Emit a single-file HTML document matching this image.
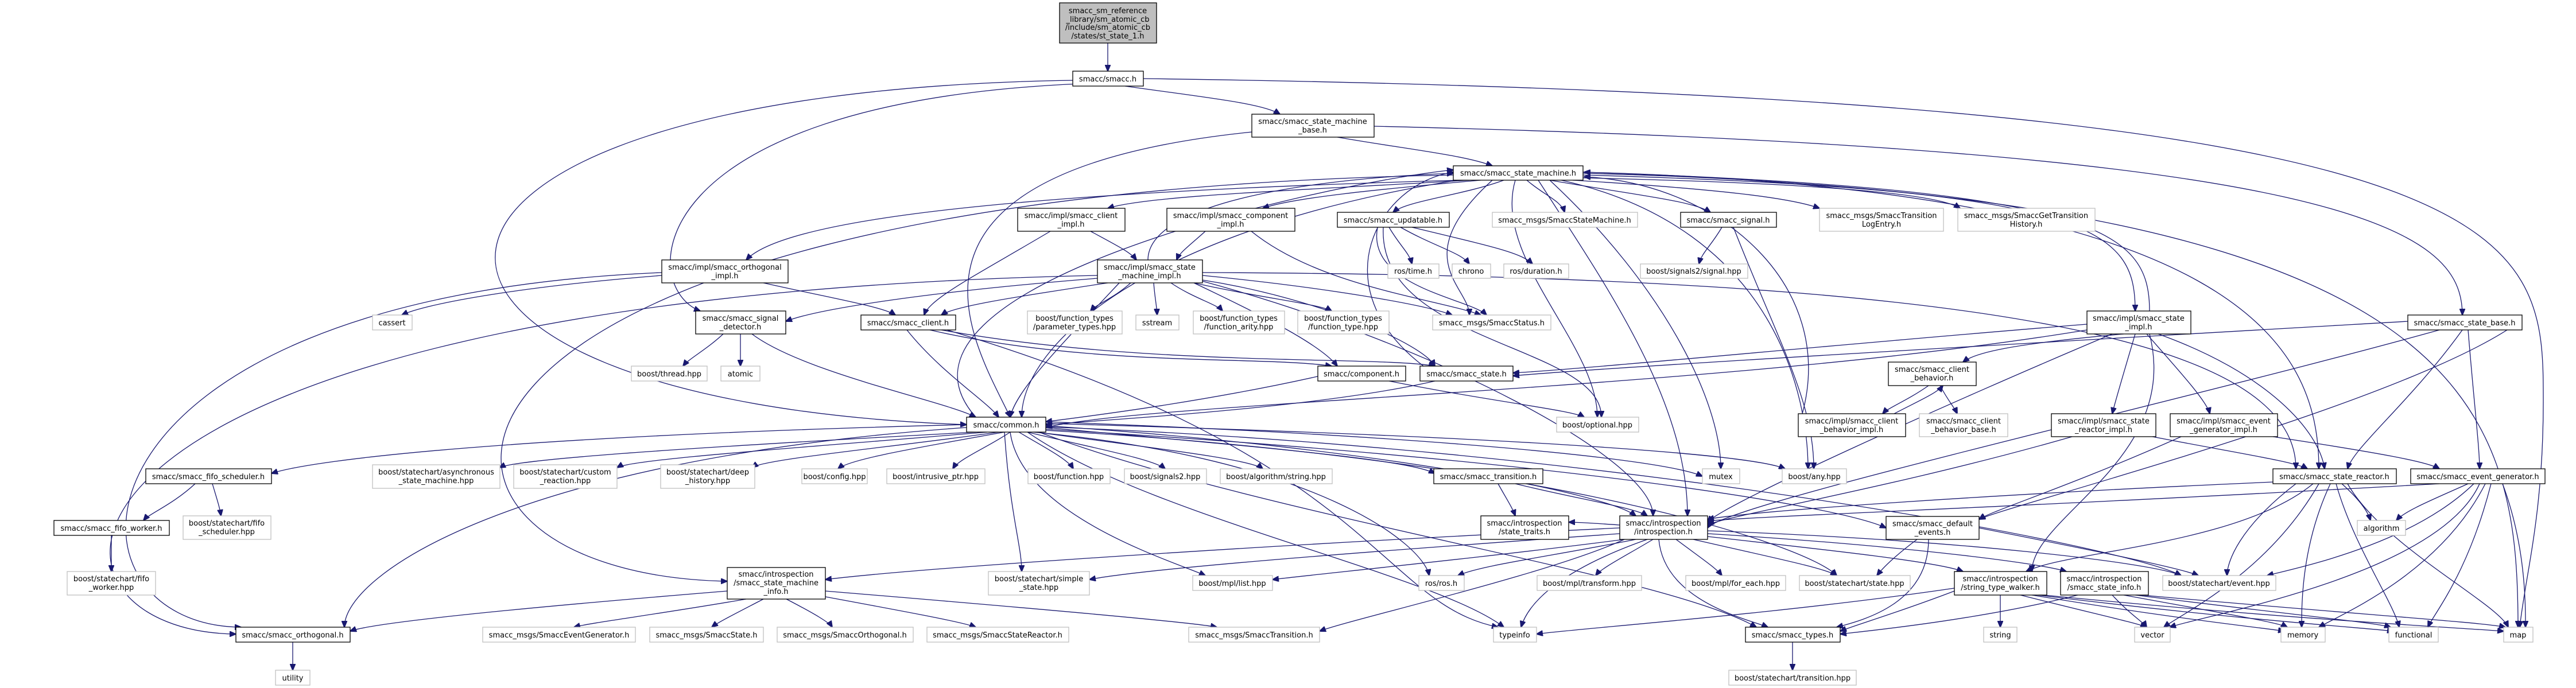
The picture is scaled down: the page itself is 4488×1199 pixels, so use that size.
<!DOCTYPE html>
<html><head><meta charset="utf-8"><style>
html,body{margin:0;padding:0;background:#fff}
svg{display:block}
text{font-family:"DejaVu Sans","Liberation Sans",sans-serif;font-size:13px;fill:#000;text-anchor:middle}
.n rect{fill:#fff;stroke:#000;stroke-width:1.3}
.g rect{fill:#fff;stroke:#bfbfbf;stroke-width:1.3}
.e path{fill:none;stroke:#191970;stroke-width:1.3}
</style></head><body>
<svg width="4488" height="1199" viewBox="0 0 4488 1199" xmlns="http://www.w3.org/2000/svg">
<defs><marker id="a" markerWidth="12" markerHeight="10" refX="11" refY="5" orient="auto" markerUnits="userSpaceOnUse"><path d="M0,0 L12,5 L0,10 z" fill="#191970" stroke="#191970"/></marker></defs>
<g class="e" marker-end="url(#a)">
<path d="M1930,75 C1930,100 1930,100 1930,124" marker-end="url(#a)"/>
<path d="M1960,150 C2100,170 2200,180 2230,199" marker-end="url(#a)"/>
<path d="M1869,140 C560,160 560,700 1684,740" marker-end="url(#a)"/>
<path d="M1880,146 C1110,180 1110,500 1220,542" marker-end="url(#a)"/>
<path d="M1992,137 C4431,170 4431,400 4431,700 C4431,900 4400,1000 4390,1093" marker-end="url(#a)"/>
<path d="M2330,239 C2450,260 2550,270 2600,289" marker-end="url(#a)"/>
<path d="M2394,220 C4100,260 4290,400 4290,549" marker-end="url(#a)"/>
<path d="M2181,230 C1500,300 1700,600 1760,727" marker-end="url(#a)"/>
<path d="M2560,314 C2300,330 2000,340 1930,363" marker-end="url(#a)"/>
<path d="M2580,314 C2400,330 2250,345 2200,363" marker-end="url(#a)"/>
<path d="M2620,314 C2550,340 2450,350 2427,370" marker-end="url(#a)"/>
<path d="M2660,314 C2690,340 2720,350 2726,370" marker-end="url(#a)"/>
<path d="M2700,314 C2850,340 2950,350 2980,370" marker-end="url(#a)"/>
<path d="M2740,314 C3000,330 3120,345 3170,363" marker-end="url(#a)"/>
<path d="M2758,310 C3200,320 3380,340 3415,363" marker-end="url(#a)"/>
<path d="M2758,305 C3650,330 3720,400 3720,542" marker-end="url(#a)"/>
<path d="M3745,542 C3745,400 3650,330 2760,300" marker-end="url(#a)"/>
<path d="M2758,300 C3900,330 4040,600 4040,817" marker-end="url(#a)"/>
<path d="M2700,314 C2900,500 2998,700 2998,817" marker-end="url(#a)"/>
<path d="M2720,314 C3100,400 3150,700 3150,817" marker-end="url(#a)"/>
<path d="M2600,314 C2450,450 2560,500 2560,549" marker-end="url(#a)"/>
<path d="M2640,314 C2600,450 2783,600 2783,727" marker-end="url(#a)"/>
<path d="M2545,314 C1600,340 1350,400 1300,453" marker-end="url(#a)"/>
<path d="M2680,314 C2800,500 2940,700 2940,899" marker-end="url(#a)"/>
<path d="M2758,302 C4300,340 4387,700 4387,1093" marker-end="url(#a)"/>
<path d="M2540,314 C2000,400 1780,600 1780,727" marker-end="url(#a)"/>
<path d="M2532,305 C612,340 612,1000 1267,1013" marker-end="url(#a)"/>
<path d="M1700,727 C1500,500 2300,320 2532,296" marker-end="url(#a)"/>
<path d="M2480,638 C2300,500 2400,320 2532,300" marker-end="url(#a)"/>
<path d="M2000,453 C2000,350 2300,310 2532,302" marker-end="url(#a)"/>
<path d="M3140,721 C3200,500 3000,320 2760,308" marker-end="url(#a)"/>
<path d="M1900,403 C1950,430 1970,440 1980,453" marker-end="url(#a)"/>
<path d="M1830,403 C1700,480 1620,520 1610,549" marker-end="url(#a)"/>
<path d="M2100,403 C2070,430 2055,440 2050,453" marker-end="url(#a)"/>
<path d="M2180,403 C2300,500 2500,520 2580,549" marker-end="url(#a)"/>
<path d="M2420,396 C2440,430 2455,440 2460,460" marker-end="url(#a)"/>
<path d="M2440,396 C2500,430 2545,440 2560,460" marker-end="url(#a)"/>
<path d="M2460,396 C2600,430 2650,440 2670,460" marker-end="url(#a)"/>
<path d="M2400,396 C2380,500 2560,520 2590,549" marker-end="url(#a)"/>
<path d="M2410,396 C2400,600 2790,600 2790,727" marker-end="url(#a)"/>
<path d="M3000,396 C2980,430 2965,440 2960,460" marker-end="url(#a)"/>
<path d="M3020,396 C3100,600 3160,700 3160,817" marker-end="url(#a)"/>
<path d="M1930,493 C1750,520 1660,535 1640,549" marker-end="url(#a)"/>
<path d="M1912,485 C1600,510 1420,540 1369,560" marker-end="url(#a)"/>
<path d="M1970,493 C1940,520 1910,530 1900,542" marker-end="url(#a)"/>
<path d="M2010,493 C2012,520 2015,530 2016,549" marker-end="url(#a)"/>
<path d="M2040,493 C2080,520 2120,530 2130,542" marker-end="url(#a)"/>
<path d="M2080,493 C2200,520 2300,530 2320,542" marker-end="url(#a)"/>
<path d="M2095,480 C2300,500 2480,530 2530,549" marker-end="url(#a)"/>
<path d="M2095,488 C2300,520 2480,600 2500,638" marker-end="url(#a)"/>
<path d="M2080,493 C2200,550 2300,600 2330,638" marker-end="url(#a)"/>
<path d="M2095,475 C3500,480 4000,600 4000,817" marker-end="url(#a)"/>
<path d="M2095,490 C2500,600 2880,800 2880,899" marker-end="url(#a)"/>
<path d="M1950,493 C1850,600 1770,680 1760,727" marker-end="url(#a)"/>
<path d="M1912,480 C0,520 0,1100 411,1105" marker-end="url(#a)"/>
<path d="M1153,475 C80,520 80,1090 420,1093" marker-end="url(#a)"/>
<path d="M1153,480 C900,500 740,530 700,549" marker-end="url(#a)"/>
<path d="M1330,493 C1450,520 1540,535 1560,549" marker-end="url(#a)"/>
<path d="M1260,582 C1230,610 1200,625 1190,638" marker-end="url(#a)"/>
<path d="M1290,582 C1290,610 1290,620 1290,638" marker-end="url(#a)"/>
<path d="M1310,582 C1400,650 1650,700 1700,727" marker-end="url(#a)"/>
<path d="M1580,575 C1640,650 1720,700 1740,727" marker-end="url(#a)"/>
<path d="M1620,575 C1900,640 2200,620 2320,638" marker-end="url(#a)"/>
<path d="M1640,575 C2000,640 2400,620 2500,638" marker-end="url(#a)"/>
<path d="M1650,575 C2400,800 2400,1050 2610,1093" marker-end="url(#a)"/>
<path d="M2300,655 C2100,700 1900,725 1822,735" marker-end="url(#a)"/>
<path d="M2420,664 C2600,700 2740,715 2760,727" marker-end="url(#a)"/>
<path d="M2500,664 C2300,710 1950,730 1822,740" marker-end="url(#a)"/>
<path d="M3636,565 C3200,600 2800,640 2636,650" marker-end="url(#a)"/>
<path d="M3700,582 C3500,600 3440,615 3420,631" marker-end="url(#a)"/>
<path d="M3720,582 C3700,650 3685,700 3680,721" marker-end="url(#a)"/>
<path d="M3740,582 C3800,650 3845,700 3850,721" marker-end="url(#a)"/>
<path d="M3760,582 C3950,650 4040,750 4050,817" marker-end="url(#a)"/>
<path d="M3680,582 C3400,700 3000,880 2975,910" marker-end="url(#a)"/>
<path d="M3745,582 C3800,800 3540,900 3540,996" marker-end="url(#a)"/>
<path d="M3636,575 C3000,680 2000,700 1822,745" marker-end="url(#a)"/>
<path d="M4195,560 C3500,600 2800,640 2636,655" marker-end="url(#a)"/>
<path d="M4290,575 C4200,700 4100,780 4090,817" marker-end="url(#a)"/>
<path d="M4300,575 C4310,700 4320,780 4320,817" marker-end="url(#a)"/>
<path d="M4250,575 C3800,700 3000,880 2975,920" marker-end="url(#a)"/>
<path d="M4390,560 C4200,700 3500,880 3448,905" marker-end="url(#a)"/>
<path d="M3360,672 C3320,700 3290,710 3280,721" marker-end="url(#a)"/>
<path d="M3300,721 C3340,700 3375,685 3385,672" marker-end="url(#a)"/>
<path d="M3380,672 C3395,700 3405,710 3410,721" marker-end="url(#a)"/>
<path d="M3750,761 C3900,790 4000,805 4020,817" marker-end="url(#a)"/>
<path d="M3610,761 C3300,850 3000,900 2975,915" marker-end="url(#a)"/>
<path d="M3960,761 C4150,790 4230,805 4250,817" marker-end="url(#a)"/>
<path d="M3800,761 C3600,850 3470,890 3448,905" marker-end="url(#a)"/>
<path d="M1684,740 C900,760 550,800 473,825" marker-end="url(#a)"/>
<path d="M1700,753 C1200,780 900,800 870,815" marker-end="url(#a)"/>
<path d="M1720,753 C1400,780 1100,800 1075,815" marker-end="url(#a)"/>
<path d="M1740,753 C1550,780 1330,800 1310,815" marker-end="url(#a)"/>
<path d="M1750,753 C1600,780 1480,800 1460,817" marker-end="url(#a)"/>
<path d="M1760,753 C1720,780 1670,800 1660,817" marker-end="url(#a)"/>
<path d="M1775,753 C1820,780 1860,800 1870,817" marker-end="url(#a)"/>
<path d="M1790,753 C1900,780 2010,800 2030,817" marker-end="url(#a)"/>
<path d="M1805,753 C2000,780 2180,800 2200,817" marker-end="url(#a)"/>
<path d="M1822,745 C2200,780 2450,800 2500,825" marker-end="url(#a)"/>
<path d="M1822,735 C2500,760 2900,800 2966,830" marker-end="url(#a)"/>
<path d="M1822,738 C2600,760 3050,790 3110,817" marker-end="url(#a)"/>
<path d="M1822,742 C2400,780 2800,860 2850,899" marker-end="url(#a)"/>
<path d="M1822,748 C2700,800 3200,880 3286,920" marker-end="url(#a)"/>
<path d="M1684,745 C900,800 600,1000 600,1093" marker-end="url(#a)"/>
<path d="M1750,753 C1760,900 1780,950 1780,996" marker-end="url(#a)"/>
<path d="M1760,753 C1780,900 2050,980 2100,1003" marker-end="url(#a)"/>
<path d="M1800,753 C2300,800 2480,950 2490,1003" marker-end="url(#a)"/>
<path d="M1822,750 C2700,800 3150,950 3200,1003" marker-end="url(#a)"/>
<path d="M1822,744 C2800,780 3700,950 3800,1003" marker-end="url(#a)"/>
<path d="M1810,753 C2200,900 2900,1000 3060,1093" marker-end="url(#a)"/>
<path d="M1790,753 C2000,900 2500,1000 2620,1093" marker-end="url(#a)"/>
<path d="M340,843 C300,880 260,895 250,907" marker-end="url(#a)"/>
<path d="M370,843 C378,870 383,885 385,899" marker-end="url(#a)"/>
<path d="M194,933 C194,960 194,980 194,996" marker-end="url(#a)"/>
<path d="M2610,843 C2625,870 2635,885 2640,899" marker-end="url(#a)"/>
<path d="M2640,843 C2750,870 2850,885 2870,899" marker-end="url(#a)"/>
<path d="M3960,840 C3500,860 3050,890 2975,905" marker-end="url(#a)"/>
<path d="M4080,843 C4110,870 4125,890 4130,907" marker-end="url(#a)"/>
<path d="M4000,843 C3900,920 3880,980 3880,1003" marker-end="url(#a)"/>
<path d="M4040,843 C3950,1000 3800,1070 3770,1093" marker-end="url(#a)"/>
<path d="M4060,843 C4010,950 4010,1050 4010,1093" marker-end="url(#a)"/>
<path d="M4070,843 C4100,950 4170,1050 4180,1093" marker-end="url(#a)"/>
<path d="M4090,843 C4150,950 4350,1050 4370,1093" marker-end="url(#a)"/>
<path d="M4030,843 C3900,950 3600,960 3530,996" marker-end="url(#a)"/>
<path d="M4250,843 C3600,880 3050,900 2975,908" marker-end="url(#a)"/>
<path d="M4300,843 C4240,870 4190,890 4175,907" marker-end="url(#a)"/>
<path d="M4310,843 C4200,950 4000,990 3950,1003" marker-end="url(#a)"/>
<path d="M4320,843 C4250,1000 3850,1070 3780,1093" marker-end="url(#a)"/>
<path d="M4330,843 C4250,1000 4080,1070 4040,1093" marker-end="url(#a)"/>
<path d="M4340,843 C4300,1000 4240,1070 4230,1093" marker-end="url(#a)"/>
<path d="M4360,843 C4400,950 4400,1050 4400,1093" marker-end="url(#a)"/>
<path d="M2822,915 C2780,912 2750,910 2733,910" marker-end="url(#a)"/>
<path d="M2822,930 C2400,960 2000,990 1898,1010" marker-end="url(#a)"/>
<path d="M2830,940 C2600,970 2300,1000 2217,1010" marker-end="url(#a)"/>
<path d="M2850,940 C2700,970 2580,985 2540,1003" marker-end="url(#a)"/>
<path d="M2880,940 C2830,970 2790,990 2780,1003" marker-end="url(#a)"/>
<path d="M2920,940 C2960,970 2990,990 3000,1003" marker-end="url(#a)"/>
<path d="M2950,940 C3080,970 3180,990 3200,1003" marker-end="url(#a)"/>
<path d="M2975,935 C3200,960 3380,980 3420,996" marker-end="url(#a)"/>
<path d="M2975,930 C3300,950 3550,980 3600,996" marker-end="url(#a)"/>
<path d="M2975,925 C3400,940 3750,980 3800,1003" marker-end="url(#a)"/>
<path d="M2830,940 C2700,1000 2350,1080 2299,1100" marker-end="url(#a)"/>
<path d="M2870,940 C2700,1000 2660,1060 2650,1093" marker-end="url(#a)"/>
<path d="M2890,940 C2900,1050 3050,1080 3080,1093" marker-end="url(#a)"/>
<path d="M2822,920 C2200,950 1600,990 1438,1010" marker-end="url(#a)"/>
<path d="M3340,940 C3300,970 3280,990 3270,1003" marker-end="url(#a)"/>
<path d="M3360,940 C3360,1050 3250,1080 3200,1093" marker-end="url(#a)"/>
<path d="M3448,920 C3650,960 3800,990 3830,1003" marker-end="url(#a)"/>
<path d="M1267,1030 C900,1060 650,1085 610,1100" marker-end="url(#a)"/>
<path d="M1300,1044 C1150,1070 1030,1085 1000,1093" marker-end="url(#a)"/>
<path d="M1330,1044 C1280,1070 1250,1085 1240,1093" marker-end="url(#a)"/>
<path d="M1370,1044 C1420,1070 1445,1085 1450,1093" marker-end="url(#a)"/>
<path d="M1438,1040 C1600,1070 1680,1085 1700,1093" marker-end="url(#a)"/>
<path d="M1438,1030 C1800,1060 2080,1085 2120,1093" marker-end="url(#a)"/>
<path d="M3485,1037 C3485,1060 3485,1080 3485,1093" marker-end="url(#a)"/>
<path d="M3520,1037 C3650,1070 3720,1085 3740,1093" marker-end="url(#a)"/>
<path d="M3540,1037 C3800,1080 3950,1095 3980,1100" marker-end="url(#a)"/>
<path d="M3550,1037 C3900,1080 4130,1095 4170,1100" marker-end="url(#a)"/>
<path d="M3560,1037 C4000,1080 4300,1095 4362,1100" marker-end="url(#a)"/>
<path d="M3405,1030 C3300,1070 3230,1090 3206,1100" marker-end="url(#a)"/>
<path d="M3405,1025 C3100,1070 2750,1095 2677,1105" marker-end="url(#a)"/>
<path d="M3680,1037 C3710,1070 3735,1085 3740,1093" marker-end="url(#a)"/>
<path d="M3700,1037 C3880,1070 3970,1085 3985,1093" marker-end="url(#a)"/>
<path d="M3720,1037 C3980,1070 4140,1085 4165,1093" marker-end="url(#a)"/>
<path d="M3730,1037 C4100,1070 4330,1085 4365,1093" marker-end="url(#a)"/>
<path d="M3620,1037 C3450,1080 3250,1100 3206,1105" marker-end="url(#a)"/>
<path d="M510,1119 C510,1140 510,1155 510,1168" marker-end="url(#a)"/>
<path d="M3123,1119 C3123,1140 3123,1155 3123,1168" marker-end="url(#a)"/>
</g>

<!-- nodes -->
<g class="n"><rect x="1846" y="5" width="169" height="70" style="fill:#bfbfbf"/><text x="1930" y="23">smacc_sm_reference</text><text x="1930" y="38">_library/sm_atomic_cb</text><text x="1930" y="52">/include/sm_atomic_cb</text><text x="1930" y="67">/states/st_state_1.h</text></g>
<g class="n"><rect x="1869" y="124" width="123" height="26"/><text x="1930" y="142">smacc/smacc.h</text></g>
<g class="n"><rect x="2181" y="199" width="213" height="40"/><text x="2287" y="216">smacc/smacc_state_machine</text><text x="2287" y="231">_base.h</text></g>
<g class="n"><rect x="2532" y="289" width="226" height="25"/><text x="2645" y="306">smacc/smacc_state_machine.h</text></g>
<g class="n"><rect x="1773" y="363" width="187" height="40"/><text x="1866" y="380">smacc/impl/smacc_client</text><text x="1866" y="395">_impl.h</text></g>
<g class="n"><rect x="2033" y="363" width="223" height="40"/><text x="2144" y="380">smacc/impl/smacc_component</text><text x="2144" y="395">_impl.h</text></g>
<g class="n"><rect x="2330" y="370" width="195" height="26"/><text x="2427" y="388">smacc/smacc_updatable.h</text></g>
<g class="g"><rect x="2600" y="370" width="253" height="26"/><text x="2726" y="388">smacc_msgs/SmaccStateMachine.h</text></g>
<g class="n"><rect x="2928" y="370" width="167" height="26"/><text x="3011" y="388">smacc/smacc_signal.h</text></g>
<g class="g"><rect x="3170" y="363" width="216" height="40"/><text x="3278" y="380">smacc_msgs/SmaccTransition</text><text x="3278" y="395">LogEntry.h</text></g>
<g class="g"><rect x="3411" y="363" width="239" height="40"/><text x="3530" y="380">smacc_msgs/SmaccGetTransition</text><text x="3530" y="395">History.h</text></g>
<g class="g"><rect x="2418" y="460" width="89" height="25"/><text x="2462" y="477">ros/time.h</text></g>
<g class="g"><rect x="2530" y="460" width="67" height="25"/><text x="2563" y="477">chrono</text></g>
<g class="g"><rect x="2620" y="460" width="113" height="25"/><text x="2676" y="477">ros/duration.h</text></g>
<g class="g"><rect x="2858" y="460" width="187" height="25"/><text x="2951" y="477">boost/signals2/signal.hpp</text></g>
<g class="n"><rect x="1912" y="453" width="183" height="40"/><text x="2003" y="470">smacc/impl/smacc_state</text><text x="2003" y="485">_machine_impl.h</text></g>
<g class="n"><rect x="1153" y="453" width="220" height="40"/><text x="1263" y="470">smacc/impl/smacc_orthogonal</text><text x="1263" y="485">_impl.h</text></g>
<g class="g"><rect x="649" y="549" width="69" height="26"/><text x="683" y="567">cassert</text></g>
<g class="n"><rect x="1212" y="542" width="157" height="40"/><text x="1290" y="559">smacc/smacc_signal</text><text x="1290" y="574">_detector.h</text></g>
<g class="n"><rect x="1500" y="549" width="165" height="26"/><text x="1582" y="567">smacc/smacc_client.h</text></g>
<g class="g"><rect x="1790" y="542" width="165" height="40"/><text x="1872" y="559">boost/function_types</text><text x="1872" y="574">/parameter_types.hpp</text></g>
<g class="g"><rect x="1979" y="549" width="75" height="26"/><text x="2016" y="567">sstream</text></g>
<g class="g"><rect x="2079" y="542" width="159" height="40"/><text x="2158" y="559">boost/function_types</text><text x="2158" y="574">/function_arity.hpp</text></g>
<g class="g"><rect x="2261" y="542" width="159" height="40"/><text x="2340" y="559">boost/function_types</text><text x="2340" y="574">/function_type.hpp</text></g>
<g class="g"><rect x="2496" y="549" width="206" height="26"/><text x="2599" y="567">smacc_msgs/SmaccStatus.h</text></g>
<g class="n"><rect x="3636" y="542" width="181" height="40"/><text x="3726" y="559">smacc/impl/smacc_state</text><text x="3726" y="574">_impl.h</text></g>
<g class="n"><rect x="4195" y="549" width="199" height="26"/><text x="4294" y="567">smacc/smacc_state_base.h</text></g>
<g class="g"><rect x="1100" y="638" width="132" height="26"/><text x="1166" y="656">boost/thread.hpp</text></g>
<g class="g"><rect x="1256" y="638" width="68" height="26"/><text x="1290" y="656">atomic</text></g>
<g class="n"><rect x="2296" y="638" width="153" height="26"/><text x="2372" y="656">smacc/component.h</text></g>
<g class="n"><rect x="2474" y="638" width="162" height="26"/><text x="2555" y="656">smacc/smacc_state.h</text></g>
<g class="n"><rect x="3290" y="631" width="153" height="41"/><text x="3366" y="648">smacc/smacc_client</text><text x="3366" y="663">_behavior.h</text></g>
<g class="n"><rect x="1684" y="727" width="138" height="26"/><text x="1753" y="745">smacc/common.h</text></g>
<g class="g"><rect x="2712" y="727" width="143" height="26"/><text x="2783" y="745">boost/optional.hpp</text></g>
<g class="n"><rect x="3133" y="721" width="187" height="40"/><text x="3226" y="738">smacc/impl/smacc_client</text><text x="3226" y="753">_behavior_impl.h</text></g>
<g class="g"><rect x="3344" y="721" width="154" height="40"/><text x="3421" y="738">smacc/smacc_client</text><text x="3421" y="753">_behavior_base.h</text></g>
<g class="n"><rect x="3574" y="721" width="182" height="40"/><text x="3665" y="738">smacc/impl/smacc_state</text><text x="3665" y="753">_reactor_impl.h</text></g>
<g class="n"><rect x="3781" y="721" width="187" height="40"/><text x="3874" y="738">smacc/impl/smacc_event</text><text x="3874" y="753">_generator_impl.h</text></g>
<g class="n"><rect x="254" y="817" width="219" height="26"/><text x="363" y="835">smacc/smacc_fifo_scheduler.h</text></g>
<g class="g"><rect x="649" y="810" width="222" height="41"/><text x="760" y="827">boost/statechart/asynchronous</text><text x="760" y="842">_state_machine.hpp</text></g>
<g class="g"><rect x="895" y="810" width="180" height="41"/><text x="985" y="827">boost/statechart/custom</text><text x="985" y="842">_reaction.hpp</text></g>
<g class="g"><rect x="1151" y="810" width="164" height="41"/><text x="1233" y="827">boost/statechart/deep</text><text x="1233" y="842">_history.hpp</text></g>
<g class="g"><rect x="1397" y="817" width="114" height="26"/><text x="1454" y="835">boost/config.hpp</text></g>
<g class="g"><rect x="1545" y="817" width="171" height="26"/><text x="1630" y="835">boost/intrusive_ptr.hpp</text></g>
<g class="g"><rect x="1791" y="817" width="143" height="26"/><text x="1862" y="835">boost/function.hpp</text></g>
<g class="g"><rect x="1959" y="817" width="143" height="26"/><text x="2030" y="835">boost/signals2.hpp</text></g>
<g class="g"><rect x="2126" y="817" width="195" height="26"/><text x="2223" y="835">boost/algorithm/string.hpp</text></g>
<g class="n"><rect x="2498" y="817" width="190" height="26"/><text x="2593" y="835">smacc/smacc_transition.h</text></g>
<g class="g"><rect x="2966" y="817" width="65" height="26"/><text x="2998" y="835">mutex</text></g>
<g class="g"><rect x="3105" y="817" width="112" height="26"/><text x="3161" y="835">boost/any.hpp</text></g>
<g class="n"><rect x="3960" y="817" width="215" height="26"/><text x="4067" y="835">smacc/smacc_state_reactor.h</text></g>
<g class="n"><rect x="4200" y="817" width="234" height="26"/><text x="4317" y="835">smacc/smacc_event_generator.h</text></g>
<g class="n"><rect x="94" y="907" width="201" height="26"/><text x="194" y="925">smacc/smacc_fifo_worker.h</text></g>
<g class="g"><rect x="319" y="899" width="153" height="41"/><text x="395" y="916">boost/statechart/fifo</text><text x="395" y="931">_scheduler.hpp</text></g>
<g class="n"><rect x="2580" y="899" width="153" height="41"/><text x="2656" y="916">smacc/introspection</text><text x="2656" y="931">/state_traits.h</text></g>
<g class="n"><rect x="2822" y="899" width="153" height="41"/><text x="2898" y="916">smacc/introspection</text><text x="2898" y="931">/introspection.h</text></g>
<g class="n"><rect x="3286" y="900" width="162" height="40"/><text x="3367" y="917">smacc/smacc_default</text><text x="3367" y="932">_events.h</text></g>
<g class="g"><rect x="4107" y="907" width="84" height="26"/><text x="4149" y="925">algorithm</text></g>
<g class="g"><rect x="117" y="996" width="154" height="41"/><text x="194" y="1013">boost/statechart/fifo</text><text x="194" y="1028">_worker.hpp</text></g>
<g class="n"><rect x="1267" y="989" width="171" height="55"/><text x="1352" y="1005">smacc/introspection</text><text x="1352" y="1020">/smacc_state_machine</text><text x="1352" y="1035">_info.h</text></g>
<g class="g"><rect x="1722" y="996" width="176" height="41"/><text x="1810" y="1013">boost/statechart/simple</text><text x="1810" y="1028">_state.hpp</text></g>
<g class="g"><rect x="2078" y="1003" width="139" height="26"/><text x="2147" y="1021">boost/mpl/list.hpp</text></g>
<g class="g"><rect x="2472" y="1003" width="79" height="26"/><text x="2511" y="1021">ros/ros.h</text></g>
<g class="g"><rect x="2678" y="1003" width="182" height="26"/><text x="2769" y="1021">boost/mpl/transform.hpp</text></g>
<g class="g"><rect x="2937" y="1003" width="174" height="26"/><text x="3024" y="1021">boost/mpl/for_each.hpp</text></g>
<g class="g"><rect x="3135" y="1003" width="193" height="26"/><text x="3231" y="1021">boost/statechart/state.hpp</text></g>
<g class="n"><rect x="3405" y="996" width="161" height="41"/><text x="3485" y="1013">smacc/introspection</text><text x="3485" y="1028">/string_type_walker.h</text></g>
<g class="n"><rect x="3590" y="996" width="153" height="41"/><text x="3666" y="1013">smacc/introspection</text><text x="3666" y="1028">/smacc_state_info.h</text></g>
<g class="g"><rect x="3768" y="1003" width="197" height="26"/><text x="3866" y="1021">boost/statechart/event.hpp</text></g>
<g class="n"><rect x="411" y="1093" width="199" height="26"/><text x="510" y="1111">smacc/smacc_orthogonal.h</text></g>
<g class="g"><rect x="480" y="1168" width="60" height="26"/><text x="510" y="1186">utility</text></g>
<g class="g"><rect x="841" y="1093" width="266" height="26"/><text x="974" y="1111">smacc_msgs/SmaccEventGenerator.h</text></g>
<g class="g"><rect x="1132" y="1093" width="198" height="26"/><text x="1231" y="1111">smacc_msgs/SmaccState.h</text></g>
<g class="g"><rect x="1354" y="1093" width="237" height="26"/><text x="1472" y="1111">smacc_msgs/SmaccOrthogonal.h</text></g>
<g class="g"><rect x="1615" y="1093" width="247" height="26"/><text x="1738" y="1111">smacc_msgs/SmaccStateReactor.h</text></g>
<g class="g"><rect x="2071" y="1093" width="228" height="26"/><text x="2185" y="1111">smacc_msgs/SmaccTransition.h</text></g>
<g class="g"><rect x="2602" y="1093" width="75" height="26"/><text x="2639" y="1111">typeinfo</text></g>
<g class="n"><rect x="3041" y="1093" width="165" height="26"/><text x="3123" y="1111">smacc/smacc_types.h</text></g>
<g class="g"><rect x="3456" y="1093" width="58" height="26"/><text x="3485" y="1111">string</text></g>
<g class="g"><rect x="3719" y="1093" width="62" height="26"/><text x="3750" y="1111">vector</text></g>
<g class="g"><rect x="3974" y="1093" width="77" height="26"/><text x="4012" y="1111">memory</text></g>
<g class="g"><rect x="4162" y="1093" width="86" height="26"/><text x="4205" y="1111">functional</text></g>
<g class="g"><rect x="4362" y="1093" width="51" height="26"/><text x="4387" y="1111">map</text></g>
<g class="g"><rect x="3012" y="1168" width="222" height="26"/><text x="3123" y="1186">boost/statechart/transition.hpp</text></g>
</svg>
</body></html>
